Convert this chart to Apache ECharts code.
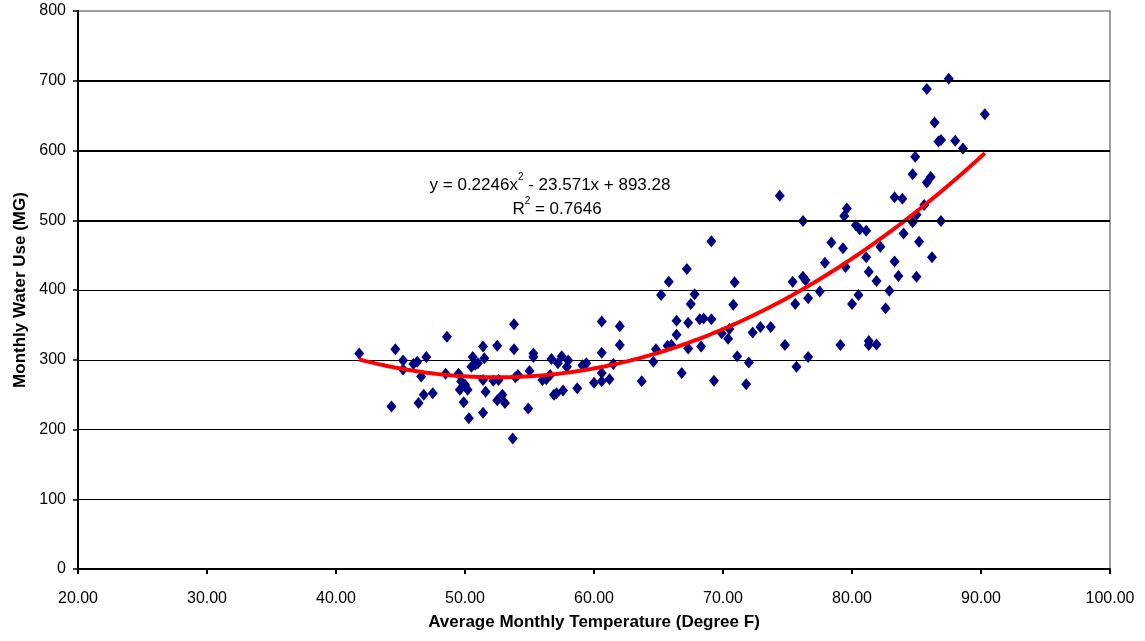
<!DOCTYPE html>
<html>
<head>
<meta charset="utf-8">
<script src="https://cdn.jsdelivr.net/npm/echarts@6/dist/echarts.min.js"></script>
<style>
  html, body { margin: 0; padding: 0; background: #ffffff; }
  #chart { width: 1145px; height: 641px; }
</style>
</head>
<body>
<div id="chart"></div>
<script>
// Average monthly temperature (°F) for each observed month
const tempF = [
  41.8, 44.3, 44.6, 45.2, 45.2, 46.0, 46.3, 47.0, 46.6, 46.8, 46.4, 47.5,
  48.6, 48.5, 49.5, 49.7, 49.6, 50.0, 50.2, 49.9, 50.3, 50.6, 50.8, 50.5,
  51.4, 51.5, 51.0, 51.4, 51.6, 51.4, 52.5, 52.6, 52.2, 52.9, 52.5, 53.1,
  53.8, 53.8, 53.9, 53.7, 54.1, 55.0, 54.9, 55.3, 55.3, 56.0, 56.3, 56.6,
  56.7, 57.5, 57.2, 58.0, 57.9, 56.9, 57.1, 57.6, 58.7, 59.1, 59.4, 60.0,
  60.6, 60.6, 61.2, 60.6, 60.6, 62.0, 62.0, 61.5, 63.7, 64.6, 64.8, 65.7,
  69.1, 67.2, 65.8, 65.2, 67.8, 67.5, 66.4, 67.3, 68.2, 68.5, 69.1, 66.4,
  66.0, 67.3, 68.3, 69.9, 70.5, 70.4, 70.8, 70.9, 72.3, 72.9, 73.7, 74.8,
  71.1, 72.0, 71.8, 69.3, 66.8, 75.4, 76.2, 76.4, 75.6, 76.6, 77.5, 75.7,
  76.6, 74.4, 76.2, 79.6, 79.4, 80.3, 80.6, 81.1, 78.4, 79.3, 77.9, 79.5,
  81.1, 82.2, 81.3, 81.9, 83.3, 83.6, 85.0, 82.9, 84.0, 85.2, 86.2, 83.3,
  83.9, 84.7, 85.0, 85.6, 85.8, 86.9, 80.5, 80.0, 82.6, 79.1, 81.3, 81.3,
  81.9, 87.5, 85.8, 90.3, 86.4, 86.9, 86.7, 88.0, 88.6, 84.9, 84.7, 86.1
];

// Monthly water use (million gallons), same order as tempF
const waterMG = [
  309, 233, 315, 299, 286, 294, 297, 304, 276, 250, 238, 252,
  333, 280, 280, 269, 257, 264, 257, 239, 216, 304, 293, 290,
  319, 302, 295, 271, 254, 224, 320, 271, 270, 250, 242, 238,
  351, 315, 275, 187, 278, 284, 230, 309, 304, 271, 272, 278,
  301, 305, 295, 299, 290, 250, 252, 256, 259, 292, 295, 267,
  281, 269, 272, 310, 355, 348, 321, 294, 269, 297, 315, 320,
  470, 430, 412, 393, 394, 380, 356, 353, 358, 359, 358, 336,
  321, 316, 319, 338, 344, 330, 379, 411, 339, 347, 347, 321,
  305, 296, 265, 270, 281, 412, 419, 414, 380, 388, 398, 290,
  304, 535, 499, 517, 506, 493, 487, 485, 468, 460, 439, 433,
  447, 462, 426, 413, 441, 420, 419, 399, 481, 469, 447, 533,
  531, 497, 508, 522, 554, 499, 393, 380, 374, 321, 327, 321,
  322, 703, 688, 652, 640, 615, 613, 614, 603, 591, 566, 562
];

// Second-order polynomial trendline: y = a*x^2 + b*x + c
const trendCoef = { a: 0.2246, b: -23.571, c: 893.28 };
const trendRange = [41.8, 90.5];
const trendLabel = ['y = 0.2246x', '2', ' - 23.571x + 893.28'];
const rSquaredLabel = ['R', '2', ' = 0.7646'];

// Axis scales
const xAxisScale = { min: 20, max: 100, interval: 10 };
const yAxisScale = { min: 0, max: 800, interval: 100 };
const heavyGridValues = [500, 600, 700];

const FONT = '"Liberation Sans", Arial, sans-serif';

const scatterData = tempF.map((t, i) => [t, waterMG[i]]);

const trendData = [];
for (let x = trendRange[0]; x <= trendRange[1] + 1e-9; x += 0.25) {
  const xv = Math.min(x, trendRange[1]);
  trendData.push([xv, trendCoef.a * xv * xv + trendCoef.b * xv + trendCoef.c]);
}

const chart = echarts.init(document.getElementById('chart'), null, { renderer: 'canvas' });

const supRich = {
  m: { fontFamily: FONT, fontSize: 17, color: '#000', lineHeight: 26 },
  s: { fontFamily: FONT, fontSize: 10, color: '#000', lineHeight: 2, verticalAlign: 'top' }
};

chart.setOption({
  backgroundColor: '#ffffff',
  animation: false,
  grid: {
    left: 78, right: 35, top: 11, bottom: 72,
    show: true,
    borderColor: '#808080',
    borderWidth: 1.5,
    backgroundColor: 'transparent',
    containLabel: false,
    outerBoundsMode: 'none'
  },
  xAxis: {
    type: 'value',
    min: xAxisScale.min, max: xAxisScale.max, interval: xAxisScale.interval,
    name: 'Average Monthly Temperature (Degree F)',
    nameLocation: 'middle',
    nameGap: 45,
    nameTextStyle: { fontFamily: FONT, fontSize: 17, fontWeight: 'bold', color: '#000' },
    axisLine: { onZero: false, lineStyle: { color: '#000', width: 2 } },
    axisTick: { show: true, inside: false, length: 5, lineStyle: { color: '#000', width: 2 } },
    axisLabel: {
      margin: 22, fontFamily: FONT, fontSize: 16, color: '#000',
      formatter: v => v.toFixed(2)
    },
    splitLine: { show: false }
  },
  yAxis: {
    type: 'value',
    min: yAxisScale.min, max: yAxisScale.max, interval: yAxisScale.interval,
    name: 'Monthly Water Use (MG)',
    nameLocation: 'middle',
    nameGap: 48,
    nameTextStyle: { fontFamily: FONT, fontSize: 17, fontWeight: 'bold', color: '#000' },
    axisLine: { onZero: false, lineStyle: { color: '#000', width: 2 } },
    axisTick: { show: true, inside: false, length: 5, lineStyle: { color: '#000', width: 1.5 } },
    axisLabel: { margin: 12, fontFamily: FONT, fontSize: 16, color: '#000' },
    splitLine: { show: true, showMaxLine: false, lineStyle: { color: '#000', width: 1 } }
  },
  series: [
    {
      // heavier grid rules in the upper range
      type: 'line',
      data: [],
      silent: true,
      z: 1,
      markLine: {
        silent: true,
        symbol: 'none',
        label: { show: false },
        lineStyle: { color: '#000', width: 2, type: 'solid' },
        data: heavyGridValues.map(v => ({ yAxis: v }))
      }
    },
    {
      name: 'Monthly Water Use',
      type: 'scatter',
      data: scatterData,
      symbol: 'diamond',
      symbolSize: [10, 12],
      itemStyle: { color: '#000080', opacity: 1 },
      z: 3
    },
    {
      name: 'Poly. trend',
      type: 'line',
      data: trendData,
      showSymbol: false,
      smooth: false,
      lineStyle: { color: '#ff0000', width: 4 },
      z: 4
    }
  ],
  graphic: [
    {
      type: 'text',
      x: 550, y: 185,
      z: 10,
      style: {
        text: '{m|' + trendLabel[0] + '}{s|' + trendLabel[1] + '}{m|' + trendLabel[2] + '}',
        rich: supRich,
        align: 'center',
        verticalAlign: 'middle'
      }
    },
    {
      type: 'text',
      x: 557, y: 209,
      z: 10,
      style: {
        text: '{m|' + rSquaredLabel[0] + '}{s|' + rSquaredLabel[1] + '}{m|' + rSquaredLabel[2] + '}',
        rich: supRich,
        align: 'center',
        verticalAlign: 'middle'
      }
    }
  ]
});
</script>
</body>
</html>
